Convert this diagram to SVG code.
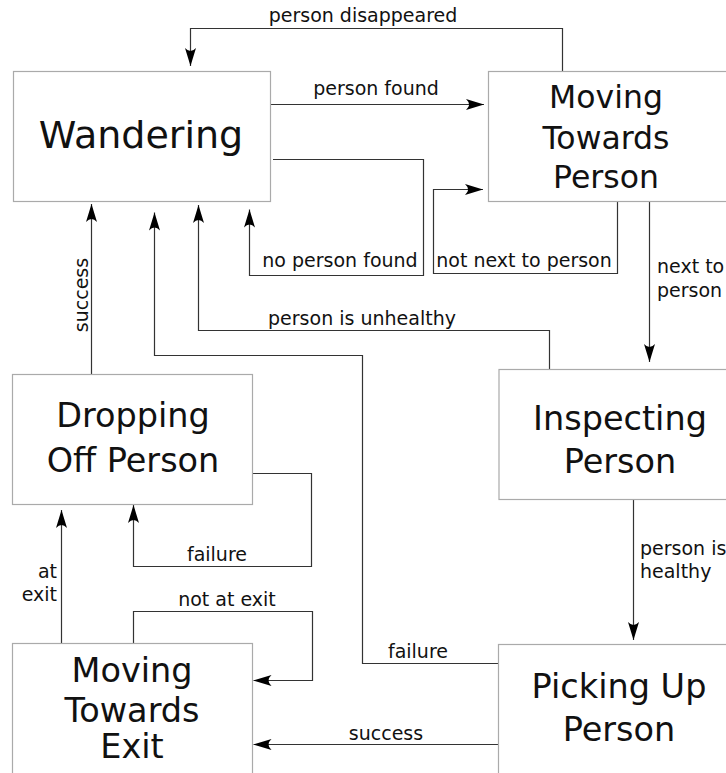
<svg xmlns="http://www.w3.org/2000/svg" width="726" height="773" viewBox="0 0 726 773">
<style>
.box{fill:#fff;stroke:#aaa;stroke-width:1.2}
.nt{font-family:"DejaVu Sans",sans-serif;font-size:33.5px;fill:#111;text-anchor:middle}
.big{font-size:38px}
.mtp{font-size:31.5px}
.lbl{font-family:"DejaVu Sans",sans-serif;font-size:19px;fill:#111}
.c{text-anchor:middle}
.e{text-anchor:end}
.edge{fill:none;stroke:#333;stroke-width:1.2;marker-end:url(#arr)}
</style>
<defs>
<marker id="arr" markerUnits="userSpaceOnUse" viewBox="-20 -7 21 14" markerWidth="21" markerHeight="14" refX="0" refY="0" orient="auto">
<path d="M0,0 L-18,-5.5 Q-12,0 -18,5.5 Z" fill="#000"/>
</marker>
</defs>
<g id="edges">
<path class="edge" d="M562.5 71 V28.5 H190.5 V66"/>
<path class="edge" d="M270.5 104.5 H484"/>
<path class="edge" d="M273 159.5 H423.5 V275.5 H249.5 V209.5"/>
<path class="edge" d="M617.5 201 V273.5 H433.5 V189.5 H483"/>
<path class="edge" d="M649.5 201 V362"/>
<path class="edge" d="M549.5 369 V330.5 H198.5 V205"/>
<path class="edge" d="M498 663.5 H362.5 V355.5 H154.5 V212.5"/>
<path class="edge" d="M498 744.5 H253.5"/>
<path class="edge" d="M91.5 374 V204"/>
<path class="edge" d="M252 473.5 H311.5 V566.5 H133.5 V505"/>
<path class="edge" d="M61.5 643 V510"/>
<path class="edge" d="M133.5 643 V611.5 H312.5 V680.5 H253.5"/>
<path class="edge" d="M633.5 499 V640"/>
<text class="lbl c" x="363" y="22">person disappeared</text>
<text class="lbl c" x="376" y="95">person found</text>
<text class="lbl c" x="340" y="267">no person found</text>
<text class="lbl c" x="524" y="267">not next to person</text>
<text class="lbl" x="657" y="273">next to</text>
<text class="lbl" x="657" y="297">person</text>
<text class="lbl c" x="362" y="325">person is unhealthy</text>
<text class="lbl c" x="418" y="658">failure</text>
<text class="lbl c" x="386" y="740">success</text>
<text class="lbl c" transform="translate(88 295) rotate(-90)">success</text>
<text class="lbl c" x="217" y="561">failure</text>
<text class="lbl e" x="57" y="578">at</text>
<text class="lbl e" x="57" y="601">exit</text>
<text class="lbl c" x="227" y="606">not at exit</text>
<text class="lbl" x="640" y="555">person is</text>
<text class="lbl" x="640" y="578">healthy</text>
</g>
<g id="wandering">
<rect class="box" x="13.5" y="71.5" width="257" height="130"/>
<text class="nt big" x="141" y="147.5">Wandering</text>
</g>
<g id="moving-towards-person">
<rect class="box" x="488.5" y="71.5" width="240" height="130"/>
<text class="nt mtp" x="606" y="108">Moving</text>
<text class="nt mtp" x="606" y="149">Towards</text>
<text class="nt mtp" x="606" y="188">Person</text>
</g>
<g id="inspecting-person">
<rect class="box" x="499" y="369.5" width="245" height="130"/>
<text class="nt" x="620" y="430">Inspecting</text>
<text class="nt" x="620" y="472.5">Person</text>
</g>
<g id="dropping-off-person">
<rect class="box" x="12.5" y="374.5" width="240" height="130"/>
<text class="nt" x="133" y="426.5">Dropping</text>
<text class="nt" x="133" y="471.5">Off Person</text>
</g>
<g id="picking-up-person">
<rect class="box" x="498.5" y="644.5" width="245" height="140"/>
<text class="nt" x="619" y="698">Picking Up</text>
<text class="nt" x="619" y="741">Person</text>
</g>
<g id="moving-towards-exit">
<rect class="box" x="12.5" y="643.5" width="240" height="140"/>
<text class="nt" x="132" y="681.5">Moving</text>
<text class="nt" x="132" y="721.5">Towards</text>
<text class="nt" x="132" y="758">Exit</text>
</g>
</svg>
